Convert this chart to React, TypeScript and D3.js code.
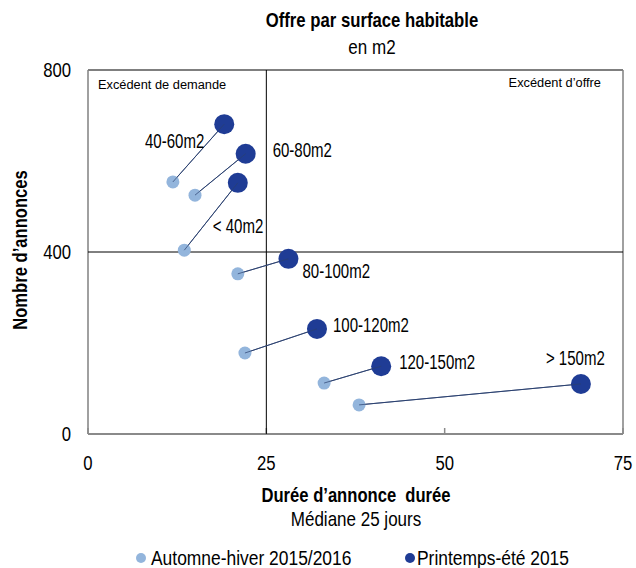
import React from "react";
import * as d3 from "d3";

const categories = ["40-60m2", "60-80m2", "< 40m2", "80-100m2", "100-120m2", "120-150m2", "> 150m2"];
const autumnDuration = [11.9, 15.0, 13.5, 21.0, 22.0, 33.1, 38.0];
const autumnCount = [554, 525, 404, 352, 178, 112, 64];
const springDuration = [19.1, 22.1, 21.0, 28.1, 32.1, 41.1, 69.1];
const springCount = [681, 616, 552, 385, 231, 149, 110];
const xTicks = [0, 25, 50, 75];
const yTicks = [0, 400, 800];
const medianDuration = 25;
const medianCount = 400;
const seriesNames = ["Automne-hiver 2015/2016", "Printemps-été 2015"];

// label placement relative to the spring point (layout, not data)
const labelOffsets: [number, number, string][] = [
  [-20, 17, "end"],
  [27, -4, "start"],
  [-25, 43, "start"],
  [14, 12, "start"],
  [16, -4, "start"],
  [18, -4, "start"],
  [-35, -26, "start"],
];

const FONT = "'Liberation Sans', Arial, sans-serif";
const LIGHT = "#93b5dc";
const DARK = "#1f3c95";

function T(props: {
  x: number; y: number; size: number; sx: number; anchor?: string; bold?: boolean; rotate?: number; children: any;
}) {
  const { x, y, size, sx, anchor = "start", bold = false, rotate = 0, children } = props;
  return (
    <text
      transform={`translate(${x},${y}) rotate(${rotate}) scale(${sx},1)`}
      textAnchor={anchor as any}
      fontSize={size}
      fontWeight={bold ? "bold" : "normal"}
      style={{ whiteSpace: "pre" }}
      fill="#000"
    >
      {children}
    </text>
  );
}

export default function App() {
  const W = 636, H = 568;
  const x = d3.scaleLinear().domain([0, 75]).range([88, 623]);
  const y = d3.scaleLinear().domain([0, 800]).range([434, 70]);
  return (
    <svg width={W} height={H} style={{ position: "absolute", left: 0, top: 0, fontFamily: FONT }}>
      <rect width={W} height={H} fill="#fff" />
      <T x={372} y={27} size={20.5} sx={0.815} anchor="middle" bold>Offre par surface habitable</T>
      <T x={372} y={54} size={20.5} sx={0.83} anchor="middle">en m2</T>
      {/* frame */}
      <line x1={x(0)} x2={x(75)} y1={y(800)} y2={y(800)} stroke="#555" strokeWidth={1.5} />
      <line x1={x(0)} x2={x(0)} y1={y(800)} y2={y(0)} stroke="#808080" strokeWidth={1.5} />
      <line x1={x(75)} x2={x(75)} y1={y(800)} y2={y(0)} stroke="#808080" strokeWidth={1.5} />
      <line x1={x(0)} x2={x(75)} y1={y(0)} y2={y(0)} stroke="#8a8a8a" strokeWidth={2} />
      {xTicks.map((t) => (
        <g key={"xt" + t}>
          <line x1={x(t)} x2={x(t)} y1={y(0)} y2={y(0) - 6} stroke="#8a8a8a" strokeWidth={1.5} />
          <T x={x(t)} y={y(0) + 36} size={20.5} sx={0.815} anchor="middle">{String(t)}</T>
        </g>
      ))}
      {yTicks.map((t) => (
        <T key={"yt" + t} x={x(0) - 17} y={y(t) + 7} size={20.5} sx={0.815} anchor="end">{String(t)}</T>
      ))}
      {/* median lines */}
      <line x1={x(medianDuration)} x2={x(medianDuration)} y1={y(800)} y2={y(0)} stroke="#000" strokeWidth={1} />
      <line x1={x(0)} x2={x(75)} y1={y(medianCount)} y2={y(medianCount)} stroke="#000" strokeWidth={1} />
      <T x={x(0) + 10} y={y(800) + 19} size={13.5} sx={0.95}>Excédent de demande</T>
      <T x={x(75) - 22} y={y(800) + 17} size={13.5} sx={0.95} anchor="end">Excédent d’offre</T>
      {/* connectors */}
      {categories.map((c, i) => (
        <line key={"l" + c} x1={x(autumnDuration[i])} y1={y(autumnCount[i])} x2={x(springDuration[i])} y2={y(springCount[i])} stroke="#2b4170" strokeWidth={1} />
      ))}
      {categories.map((c, i) => (
        <circle key={"a" + c} cx={x(autumnDuration[i])} cy={y(autumnCount[i])} r={6.5} fill={LIGHT} />
      ))}
      {categories.map((c, i) => (
        <circle key={"s" + c} cx={x(springDuration[i])} cy={y(springCount[i])} r={10} fill={DARK} />
      ))}
      {categories.map((c, i) => (
        <line key={"l2" + c} x1={x(autumnDuration[i])} y1={y(autumnCount[i])} x2={x(springDuration[i])} y2={y(springCount[i])} stroke="#2b4170" strokeWidth={1} opacity={0.7} />
      ))}
      {categories.map((c, i) => (
        <T key={"t" + c} x={x(springDuration[i]) + labelOffsets[i][0]} y={y(springCount[i]) + labelOffsets[i][1] + 7}
          size={19.5} sx={0.77} anchor={labelOffsets[i][2]}>{c}</T>
      ))}
      {/* axis titles */}
      <T x={27} y={250} size={20.5} sx={0.81} anchor="middle" bold rotate={-90}>Nombre d’annonces</T>
      <T x={356} y={502} size={20.5} sx={0.81} anchor="middle" bold>{"Durée d’annonce  durée"}</T>
      <T x={356} y={526} size={20.5} sx={0.83} anchor="middle">Médiane 25 jours</T>
      {/* legend */}
      <circle cx={141} cy={558} r={5} fill={LIGHT} />
      <T x={151} y={565} size={20.5} sx={0.85}>{seriesNames[0]}</T>
      <circle cx={410} cy={558} r={5} fill={DARK} />
      <T x={417} y={565} size={20.5} sx={0.85}>{seriesNames[1]}</T>
    </svg>
  );
}
